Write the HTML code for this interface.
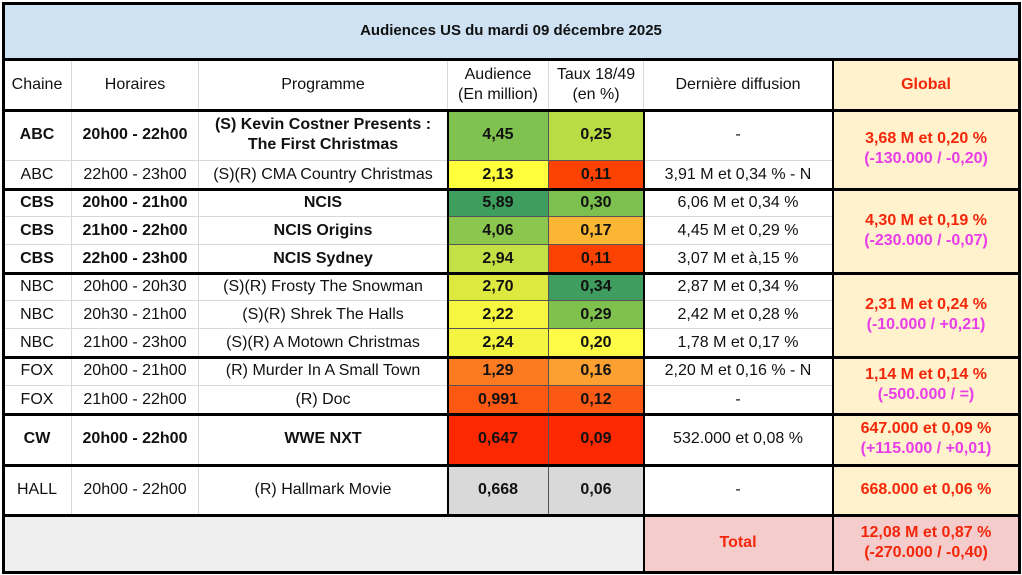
<!DOCTYPE html>
<html><head><meta charset="utf-8"><style>
body{margin:0;width:1022px;height:575px;background:#fff;font-family:"Liberation Sans",Arial,sans-serif;position:relative;overflow:hidden}
.c{position:absolute;box-sizing:border-box;display:flex;align-items:center;justify-content:center;text-align:center;font-size:16px;color:#111;line-height:20px;border-right:1px solid #d8d8d8;border-bottom:1px solid #d8d8d8}
.b{font-weight:bold}
.hl{position:absolute;background:#000}
</style></head><body>
<div id="t"></div>
<script>
const X=[3,72,199,448,549,644,833,1020];
const rowsY=[110,161,189,217,245,273,301,329,357,386,414,465,515];
const chaines=["ABC","ABC","CBS","CBS","CBS","NBC","NBC","NBC","FOX","FOX","CW","HALL"];
const horaires=["20h00 - 22h00","22h00 - 23h00","20h00 - 21h00","21h00 - 22h00","22h00 - 23h00","20h00 - 20h30","20h30 - 21h00","21h00 - 23h00","20h00 - 21h00","21h00 - 22h00","20h00 - 22h00","20h00 - 22h00"];
const programmes=["(S) Kevin Costner Presents :<br>The First Christmas","(S)(R) CMA Country Christmas","NCIS","NCIS Origins","NCIS Sydney","(S)(R) Frosty The Snowman","(S)(R) Shrek The Halls","(S)(R) A Motown Christmas","(R) Murder In A Small Town","(R) Doc","WWE NXT","(R) Hallmark Movie"];
const audiences=["4,45","2,13","5,89","4,06","2,94","2,70","2,22","2,24","1,29","0,991","0,647","0,668"];
const taux=["0,25","0,11","0,30","0,17","0,11","0,34","0,29","0,20","0,16","0,12","0,09","0,06"];
const derniere=["-","3,91 M et 0,34 % - N","6,06 M et 0,34 %","4,45 M et 0,29 %","3,07 M et à,15 %","2,87 M et 0,34 %","2,42 M et 0,28 %","1,78 M et 0,17 %","2,20 M et 0,16 % - N","-","532.000 et 0,08 %","-"];
const bold=[1,0,1,1,1,0,0,0,0,0,1,0];
const audCol=["#7fc24f","#ffff3c","#3d9e5e","#8cc74d","#c5e044","#dde93e","#f6f640","#f4f540","#fb7a22","#fc5812","#fc2800","#d9d9d9"];
const tauxCol=["#b9dc45","#fc4200","#7cc04f","#fbb734","#fc4200","#3e9d5f","#80c14e","#fdfb46","#fca032","#fc5a14","#fc2800","#d9d9d9"];
const globals=[[0,2,"3,68 M et 0,20 %","(-130.000 / -0,20)"],[2,5,"4,30 M et 0,19 %","(-230.000 / -0,07)"],[5,8,"2,31 M et 0,24 %","(-10.000 / +0,21)"],[8,10,"1,14 M et 0,14 %","(-500.000 / =)"],[10,11,"647.000 et 0,09 %","(+115.000 / +0,01)"],[11,12,"668.000 et 0,06 %",""]];
const groupBreaks=[110,189,273,357,414,465,515];
const t=document.getElementById('t');
function cell(x1,y1,x2,y2,html,cls,bg,color,name){
 const d=document.createElement('div');d.className='c '+(cls||'');
 d.style.left=x1+'px';d.style.top=y1+'px';d.style.width=(x2-x1)+'px';d.style.height=(y2-y1)+'px';
 if(bg)d.style.background=bg;if(color)d.style.color=color;d.innerHTML='<div>'+html+'</div>';
 
 
 t.appendChild(d);return d;}
cell(3,3,1020,60,"Audiences US du mardi 09 décembre 2025","b","#cfe2f3",null,"table-title").style.fontSize='15px';
const hdr=["Chaine","Horaires","Programme","Audience<br>(En million)","Taux 18/49<br>(en %)","Dernière diffusion","Global"];
hdr.forEach((h,i)=>{const d=cell(X[i],60,X[i+1],110,h,i==6?'b':'',i==6?'#fff2cc':null,i==6?'#f4260a':null,'header-'+i);});
for(let r=0;r<12;r++){
 const y1=rowsY[r],y2=rowsY[r+1],bc=bold[r]?'b':'';
 cell(X[0],y1,X[1],y2,chaines[r],bc,null,null,'chaine-'+r);
 cell(X[1],y1,X[2],y2,horaires[r],bc,null,null,'horaire-'+r);
 cell(X[2],y1,X[3],y2,programmes[r],bc,null,null,'programme-'+r);
 const a=cell(X[3],y1,X[4],y2,audiences[r],'b',audCol[r],null,'audience-'+r);a.style.borderColor='#555';
 const b=cell(X[4],y1,X[5],y2,taux[r],'b',tauxCol[r],null,'taux-'+r);b.style.borderColor='#555';
 cell(X[5],y1,X[6],y2,derniere[r],'',null,null,'derniere-'+r);
}
globals.forEach((g,i)=>{cell(X[6],rowsY[g[0]],X[7],rowsY[g[1]],g[2]+(g[3]?'<br><span style="color:#e83ee8">'+g[3]+'</span>':''),'b','#fff2cc','#f4260a','global-'+i);});
cell(X[0],515,X[5],572,"","","#efefef",null,"total-blank");
cell(X[5],515,X[6],572,"Total","b","#f4cccc","#f4260a","total-label");
cell(X[6],515,X[7],572,"12,08 M et 0,87 %<br>(-270.000 / -0,40)","b","#f4cccc","#f4260a","total-value");
function line(x,y,w,h,n){const d=document.createElement('div');d.className='hl';d.style.left=x+'px';d.style.top=y+'px';d.style.width=w+'px';d.style.height=h+'px';


t.appendChild(d);}
line(2,2,1019,3,'border-top');line(2,571,1019,3,'border-bottom');line(2,2,3,572,'border-left');line(1018,2,3,572,'border-right');
line(2,58,1019,3,'title-line');
groupBreaks.forEach((y,i)=>line(2,y-1,1019,3,'group-line-'+i));
line(447,110,2,405,'aud-left');line(643,110,2,462,'der-left');line(832,60,2,512,'global-left');
</script>
</body></html>
